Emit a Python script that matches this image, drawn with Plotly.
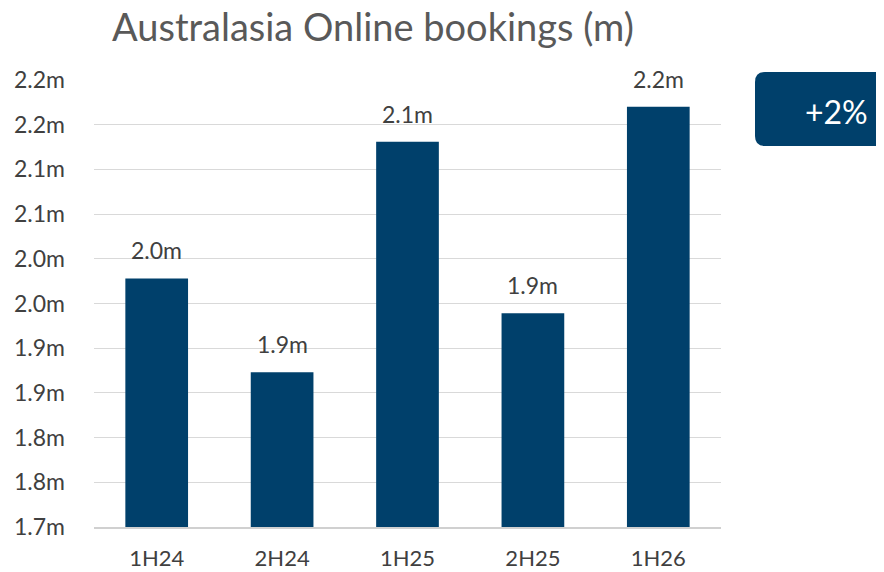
import plotly.graph_objects as go

categories = ["1H24", "2H24", "1H25", "2H25", "1H26"]
values = [1.978, 1.873, 2.131, 1.939, 2.170]
bar_labels = ["2.0m", "1.9m", "2.1m", "1.9m", "2.2m"]
tick_vals = [1.70, 1.75, 1.80, 1.85, 1.90, 1.95, 2.00, 2.05, 2.10, 2.15, 2.20]
tick_text = ["1.7m", "1.8m", "1.8m", "1.9m", "1.9m", "2.0m", "2.0m", "2.1m", "2.1m", "2.2m", "2.2m"]
title_text = "Australasia Online bookings (m)"
badge_text = "+2%"

OFF = 8  # page body margin
W, H = 884 - OFF, 572 - OFF
L, R, T, B = 94 - OFF, 721 - OFF, 80 - OFF, 527 - OFF
FONT = "Lato"
BLUE = "#00406b"

def px(x):
    return (x - OFF - L) / (R - L)

def py(y):
    return (B - (y - OFF)) / (B - T)

fig = go.Figure()
fig.add_trace(go.Bar(
    x=categories, y=values, marker=dict(color=BLUE, line=dict(width=0)),
    width=0.5, hoverinfo="skip",
))

annotations = []
for c, v, t in zip(categories, values, bar_labels):
    annotations.append(dict(x=c, y=v, text=t, showarrow=False, yanchor="bottom",
                            yshift=12, font=dict(family=FONT, size=23, color="#404040")))

annotations.append(dict(xref="paper", yref="paper", x=px(373), y=py(26), text=title_text,
                        showarrow=False, xanchor="center", yanchor="middle",
                        font=dict(family=FONT, size=38, color="#595959")))
annotations.append(dict(xref="paper", yref="paper", x=px(836), y=py(111), text=badge_text,
                        showarrow=False, xanchor="center", yanchor="middle",
                        font=dict(family=FONT, size=32, color="white")))

x0, x1 = px(755), px(884)
y0, y1 = py(146), py(72)
rx, ry = 10 / (R - L), 10 / (B - T)
path = (f"M {x0+rx},{y0} L {x1-rx},{y0} Q {x1},{y0} {x1},{y0+ry} "
        f"L {x1},{y1-ry} Q {x1},{y1} {x1-rx},{y1} L {x0+rx},{y1} Q {x0},{y1} {x0},{y1-ry} "
        f"L {x0},{y0+ry} Q {x0},{y0} {x0+rx},{y0} Z")

fig.update_layout(
    width=W, height=H,
    margin=dict(l=L, r=W - R, t=T, b=H - B, autoexpand=False),
    plot_bgcolor="white", paper_bgcolor="white",
    showlegend=False,
    annotations=annotations,
    shapes=[dict(type="path", path=path, xref="paper", yref="paper",
                 fillcolor=BLUE, line=dict(width=0), layer="above")],
    xaxis=dict(showgrid=False, showline=True, linecolor="#d0d0d0", linewidth=2,
               automargin=False,
               ticks="", tickfont=dict(family=FONT, size=22, color="#404040"),
               ticklabelstandoff=11),
    yaxis=dict(range=[1.70, 2.20], tickvals=tick_vals, ticktext=tick_text,
               automargin=False,
               showgrid=True, gridcolor="#d9d9d9", gridwidth=1, zeroline=False,
               ticks="", tickfont=dict(family=FONT, size=23, color="#404040"),
               ticklabelstandoff=28),
    bargap=0.5,
)

fig.write_html("out.html")
